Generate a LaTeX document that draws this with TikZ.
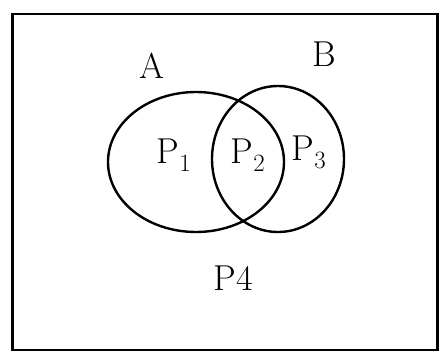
\documentclass[tikz,border=0pt]{standalone}
\usepackage{tikz}
\usetikzlibrary{shapes.geometric}

\begin{document}
\begin{tikzpicture}[
  x=1pt, y=-1pt,
  every node/.style={font=\fontsize{36}{40}\selectfont},
  setshape/.style={draw, ellipse, line width=2.4pt, inner sep=0pt},
  frame/.style={draw, line width=2.4pt}
]
\useasboundingbox (0,0) rectangle (448,354);
\node[frame, minimum width=425pt, minimum height=336pt] (universe) at (225,182) {};
\node[setshape, minimum width=176pt, minimum height=140pt] (setA) at (196,162) {};
\node[setshape, minimum width=132pt, minimum height=146pt] (setB) at (278,159) {};

\node (labelA) at (152,66) {A};
\node (labelB) at (324,54) {B};
\node (pone) at (174,155) {P$_1$};
\node (ptwo) at (248,155) {P$_2$};
\node (pthree) at (309,152) {P$_3$};
\node (pfour) at (233,278) {P4};
\end{tikzpicture}
\end{document}
